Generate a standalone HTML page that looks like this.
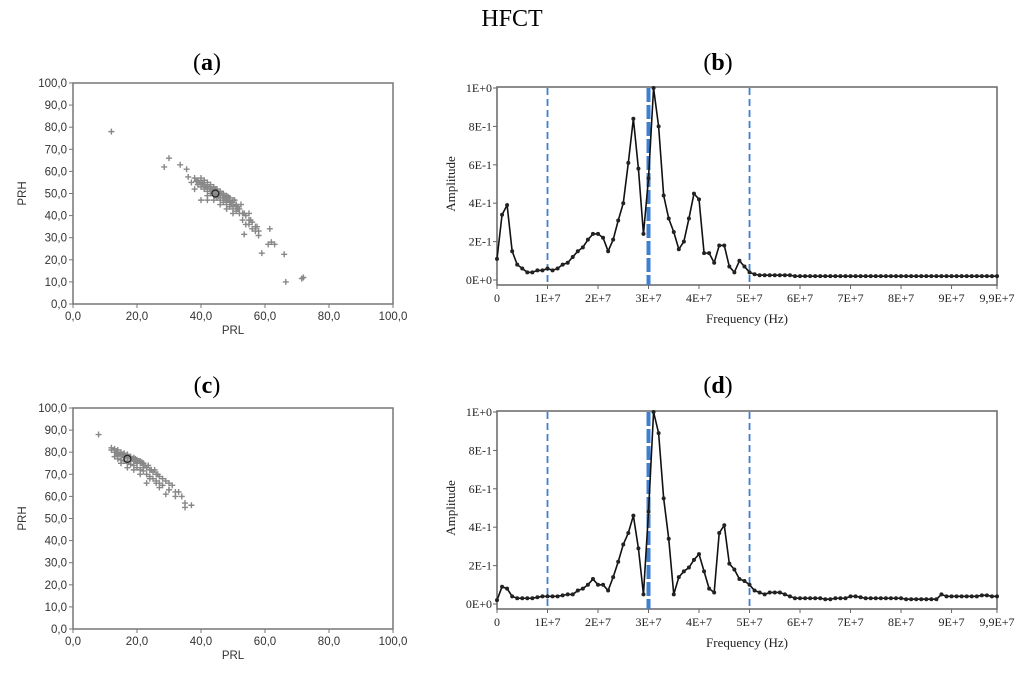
<!DOCTYPE html>
<html><head><meta charset="utf-8"><style>
html,body{margin:0;padding:0;background:#fff;width:1024px;height:678px;overflow:hidden}
svg{display:block}
.ser{font-family:"Liberation Serif",serif}
.san{font-family:"Liberation Sans",sans-serif}
</style></head><body>
<svg id="fig" width="1024" height="678" viewBox="0 0 1024 678">
<text x="512" y="26" text-anchor="middle" class="ser" font-size="24">HFCT</text>
<text x="207" y="70" text-anchor="middle" class="ser" font-size="24">(<tspan font-weight="bold">a</tspan>)</text>
<text x="718" y="70" text-anchor="middle" class="ser" font-size="24">(<tspan font-weight="bold">b</tspan>)</text>
<text x="207" y="393" text-anchor="middle" class="ser" font-size="24">(<tspan font-weight="bold">c</tspan>)</text>
<text x="718" y="393" text-anchor="middle" class="ser" font-size="24">(<tspan font-weight="bold">d</tspan>)</text>
</svg>
<script>
const scatterTicks = ["0,0","10,0","20,0","30,0","40,0","50,0","60,0","70,0","80,0","90,0","100,0"];
const scatterXTicks = ["0,0","20,0","40,0","60,0","80,0","100,0"];
const aX = [12,30,28.5,33.5,35.5,36,37,38,40,42,61.5,62,61,63,59,66,66.5,71.5,72,53.5,55,51,
 38,39,40,41,42,43,44,45,46,47,48,49,50,51,52,53,54,55,56,57,58,
 39,40,41,42,43,44,45,46,47,48,49,50,51,52,40,41,42,43,44,45,46,47,48,49,50,
 42,44,46,48,50,53,55,57,54,56,58,39.5,41.5,43.5,45.5,47.5,49.5,51.5,53.5,55.5,57.5,
 38.5,40.5,42.5,44.5,46.5,48.5,50.5,52.5,41,43,45,47,49,51,43.5,45.5,47.5,49.5,51.5];
const aY = [78,66,62,63,61,57.5,55,52,47,47,34,28,27,27,23,22.5,10,11.5,12,31.5,41,45,
 57,56,55,54,53,52,51,50,49,48,47,46,45,44,43,41,40,38,37,35,33,
 54,53,52,51,50,49,48,47,46,45,44,43,42,41,57,56,55,54,53,52,51,50,49,48,47,
 49,47,45,43,41,38,36,33,36,34,31,55,53,51,49,47,45,43,41,38,35,
 55.5,54.5,53,51.5,50,48.5,47,45,53,51,49.5,48,46.5,44.5,51.5,50,48.5,46,44];
const cX = [8,37,35,34,33,30,27,23,35,32,29,
 12,13,14,15,16,17,18,19,20,21,22,23,24,25,26,27,28,29,30,31,
 13,14,15,16,17,18,19,20,21,22,23,24,25,26,27,12,13,14,15,16,17,18,19,20,21,22,
 15,17,19,21,24,26,28,30,32,14.5,16.5,18.5,20.5,22.5,24.5,26.5,
 13.5,15.5,17.5,19.5,21.5,23.5,25.5,14,16,18,20,22];
const cY = [88,56,57,60,62,63,64,66,55,60,61,
 81,80,79.5,79,78,77.5,77,76,75.5,75,74,73,72,71,70,69,68,67,66,65,
 78,77,76.5,76,75,74.5,74,73,72,71.5,70,69,68,67,66,82,81.5,81,80,79.5,79,78,77.5,76.5,76,75,
 75,73,72,70,68,66,65,63,62,79,78,77,76,74,72,70,
 80,79,78,77,75.5,74,72,78.5,77.5,76,75,73];
const aMean = [44.5,50]; const cMean = [17,77];

const freqTicks = ["0","1E+7","2E+7","3E+7","4E+7","5E+7","6E+7","7E+7","8E+7","9E+7","9,9E+7"];
const freqTickVals = [0,10,20,30,40,50,60,70,80,90,99];
const ampTicks = ["0E+0","2E-1","4E-1","6E-1","8E-1","1E+0"];
const ampTickVals = [0,0.2,0.4,0.6,0.8,1.0];
const markerFreqs = [10,30,50];
const bAmp = [0.11,0.34,0.39,0.15,0.08,0.06,0.04,0.04,0.05,0.05,0.06,0.05,0.06,0.08,0.09,0.12,0.15,0.17,0.21,0.24,
 0.24,0.22,0.15,0.21,0.31,0.40,0.61,0.84,0.58,0.24,0.53,1.0,0.80,0.44,0.32,0.25,0.16,0.20,0.32,0.45,
 0.42,0.14,0.14,0.09,0.18,0.18,0.07,0.04,0.10,0.07,0.04,0.03,0.025,0.025,0.025,0.025,0.025,0.025,0.025,0.02,
 0.02,0.02,0.02,0.02,0.02,0.02,0.02,0.02,0.02,0.02,0.02,0.02,0.02,0.02,0.02,0.02,0.02,0.02,0.02,0.02,
 0.02,0.02,0.02,0.02,0.02,0.02,0.02,0.02,0.02,0.02,0.02,0.02,0.02,0.02,0.02,0.02,0.02,0.02,0.02,0.02];
const dAmp = [0.02,0.09,0.08,0.04,0.03,0.03,0.03,0.03,0.035,0.04,0.04,0.04,0.04,0.045,0.05,0.05,0.07,0.08,0.10,0.13,
 0.10,0.10,0.07,0.14,0.22,0.31,0.37,0.46,0.29,0.05,0.48,1.0,0.89,0.55,0.34,0.05,0.14,0.17,0.19,0.23,
 0.26,0.17,0.08,0.06,0.37,0.41,0.21,0.18,0.13,0.12,0.10,0.07,0.06,0.05,0.06,0.06,0.06,0.05,0.04,0.03,
 0.03,0.03,0.03,0.03,0.03,0.025,0.025,0.03,0.03,0.03,0.04,0.04,0.035,0.03,0.03,0.03,0.03,0.03,0.03,0.03,
 0.03,0.025,0.025,0.025,0.025,0.025,0.025,0.025,0.05,0.04,0.04,0.04,0.04,0.04,0.04,0.04,0.045,0.045,0.04,0.04];

const NS='http://www.w3.org/2000/svg';
const svg=document.getElementById('fig');
function mk(tag,attrs,parent){const e=document.createElementNS(NS,tag);for(const k in attrs)e.setAttribute(k,attrs[k]);(parent||svg).appendChild(e);return e;}

function scatter(px,py,xs,ys,mean,name){
  const L=73,R=393,T=py,B=py+221;
  const sx=v=>L+(v/100)*(R-L), sy=v=>B-(v/100)*(B-T);
  const g=mk('g',{});
  
  
  const fr=mk('rect',{x:L,y:T,width:R-L,height:B-T,fill:'none',stroke:'#777','stroke-width':1.5},g);
  
  
  scatterTicks.forEach((t,i)=>{const y=sy(i*10);
    mk('line',{x1:L-4,x2:L,y1:y,y2:y,stroke:'#777'},g);
    const tx=mk('text',{x:L-6,y:y+4,'text-anchor':'end','font-size':11.5,fill:'#333',class:'san'},g);tx.textContent=t;
    
    });
  scatterXTicks.forEach((t,i)=>{const x=sx(i*20);
    mk('line',{x1:x,x2:x,y1:B,y2:B+4,stroke:'#777'},g);
    const tx=mk('text',{x:x,y:B+16,'text-anchor':'middle','font-size':11.5,fill:'#333',class:'san'},g);tx.textContent=t;
    
    });
  const xt=mk('text',{x:(L+R)/2,y:B+30,'text-anchor':'middle','font-size':11.5,fill:'#333',class:'san'},g);xt.textContent='PRL';
  
  
  const yt=mk('text',{x:0,y:0,'text-anchor':'middle','font-size':11.5,fill:'#333',class:'san',transform:`translate(26,${(T+B)/2}) rotate(-90)`},g);yt.textContent='PRH';
  
  
  xs.forEach((v,i)=>{const x=sx(v),y=sy(ys[i]);
    const p=mk('path',{d:`M${x-3},${y}H${x+3}M${x},${y-3}V${y+3}`,stroke:'#888','stroke-width':1.4},g);
    
    });
  const c=mk('circle',{cx:sx(mean[0]),cy:sy(mean[1]),r:3.5,fill:'none',stroke:'#222','stroke-width':1.2},g);
  
  
}

function spectrum(top,amps,name){
  const L=497,R=997,T=top,Z=top+192,B=top+197;
  const sx=v=>L+(v/99)*(R-L), sy=v=>Z-v*(Z-T);
  const g=mk('g',{});
  
  
  const fr=mk('rect',{x:L,y:T-1,width:R-L,height:B-T+1,fill:'none',stroke:'#666','stroke-width':1.5},g);
  
  
  ampTickVals.forEach((v,i)=>{const y=sy(v);
    mk('line',{x1:L-4,x2:L,y1:y,y2:y,stroke:'#666'},g);
    const tx=mk('text',{x:L-5,y:y+4,'text-anchor':'end','font-size':12,fill:'#222',class:'ser'},g);tx.textContent=ampTicks[i];
    
    });
  freqTickVals.forEach((v,i)=>{const x=sx(v);
    mk('line',{x1:x,x2:x,y1:B,y2:B+4,stroke:'#666'},g);
    const tx=mk('text',{x:x,y:B+17,'text-anchor':'middle','font-size':12,fill:'#222',class:'ser'},g);tx.textContent=freqTicks[i];
    
    });
  const xt=mk('text',{x:(L+R)/2,y:B+38,'text-anchor':'middle','font-size':13,fill:'#222',class:'ser'},g);xt.textContent='Frequency (Hz)';
  
  
  const yt=mk('text',{x:0,y:0,'text-anchor':'middle','font-size':13,fill:'#222',class:'ser',transform:`translate(455,${(T+Z)/2}) rotate(-90)`},g);yt.textContent='Amplitude';
  
  
  markerFreqs.forEach((f,i)=>{const x=sx(f);
    const l=mk('line',{x1:x,x2:x,y1:T,y2:B,stroke:'#3f7fd0','stroke-width':i===1?4:1.8,'stroke-dasharray':i===1?'14,3':'7,4'},g);
    
    });
  const pts=amps.map((a,i)=>sx(i)+','+sy(a)).join(' ');
  const pl=mk('polyline',{points:pts,fill:'none',stroke:'#111','stroke-width':1.6},g);
  
  
  amps.forEach((a,i)=>{const c=mk('circle',{cx:sx(i),cy:sy(a),r:2,fill:'#222'},g);
    
    });
}

scatter(0,83,aX,aY,aMean,'scatter-a');
scatter(0,408,cX,cY,cMean,'scatter-c');
spectrum(88,bAmp,'spectrum-b');
spectrum(412,dAmp,'spectrum-d');
</script>
</body></html>
